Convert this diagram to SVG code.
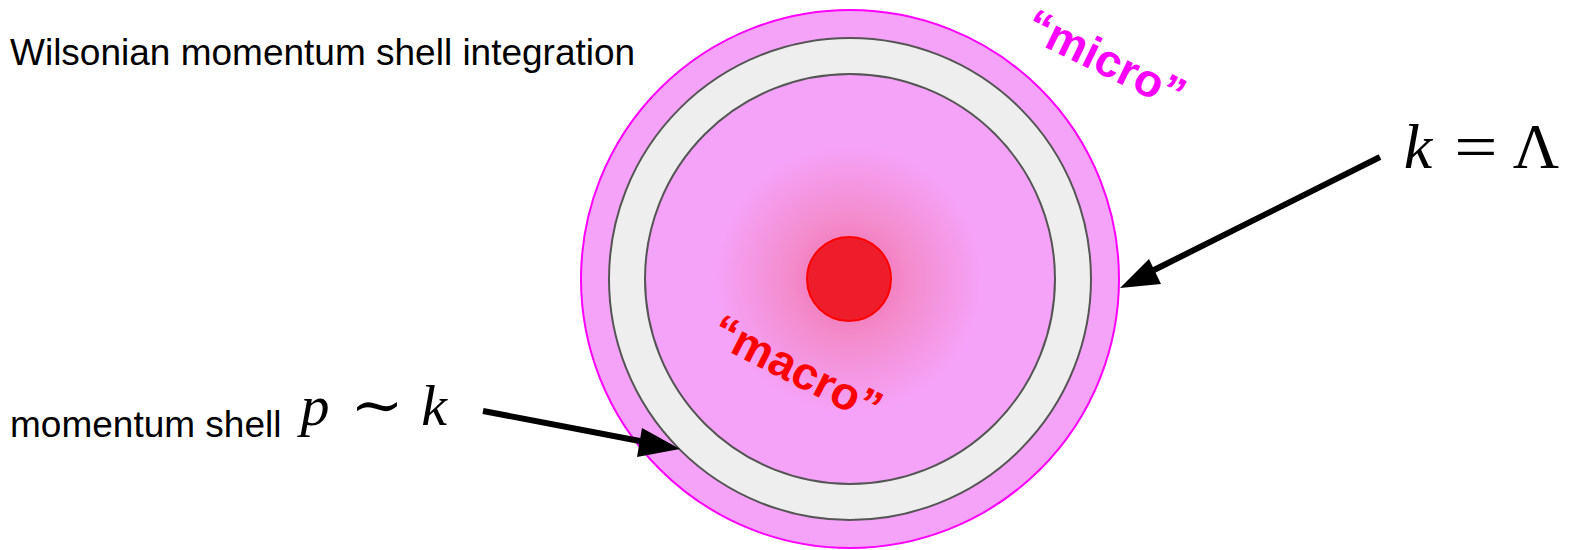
<svg xmlns="http://www.w3.org/2000/svg" width="1571" height="550" viewBox="0 0 1571 550">
<style>
.lbl{font-family:"Liberation Sans",Arial,sans-serif;font-size:37px;fill:#000}
.math{font-family:"Liberation Serif","DejaVu Serif",serif;fill:#000;text-anchor:middle}
.it{font-style:italic}
.bold{font-family:"Liberation Sans",Arial,sans-serif;font-weight:bold;font-size:46px}
.conn{stroke:#000;stroke-width:6;fill:none}
</style>
<defs>
<radialGradient id="core" cx="849" cy="279" r="135" gradientUnits="userSpaceOnUse">
<stop offset="0" stop-color="#f06aa8"/>
<stop offset="0.45" stop-color="#f38ccc"/>
<stop offset="1" stop-color="#f5a3f9"/>
</radialGradient>
</defs>
<g id="outer"><circle cx="850" cy="279" r="269" fill="#f5a3f9" stroke="#ff00ff" stroke-width="2"/></g>
<g id="shell"><circle cx="850" cy="279" r="241" fill="#eeeeee" stroke="#555" stroke-width="2"/></g>
<g id="inner"><circle cx="850" cy="279" r="205" fill="url(#core)" stroke="#555" stroke-width="2"/></g>
<g id="center"><circle cx="849" cy="279" r="42" fill="#ef1c2c" stroke="#ff0000" stroke-width="2"/></g>
<g id="title"><text class="lbl" x="10" y="65">Wilsonian momentum shell integration</text></g>
<g id="micro"><text class="bold" fill="#ff00ff" transform="translate(1022,36) rotate(26)">“micro”</text></g>
<g id="macro"><text class="bold" fill="#ff0000" transform="translate(708,341) rotate(27)">“macro”</text></g>
<g id="klabel"><text class="math it" x="1418" y="168" font-size="64">k</text><text class="math" transform="translate(1476,168) scale(1.2,1)" font-size="64">=</text><text class="math" x="1536" y="168" font-size="64">Λ</text></g>
<g id="plabel"><text class="lbl" x="10" y="437">momentum shell</text><text class="math it" x="315" y="425" font-size="58">p</text><text class="math" transform="translate(377,425) scale(1.1,1)" font-size="58">∼</text><text class="math it" x="434" y="425" font-size="58">k</text></g>
<g id="connectors">
<line class="conn" x1="1380" y1="157" x2="1150" y2="272"/>
<polygon points="1120,288 1149,259 1161,284" fill="#000"/>
<line class="conn" x1="483" y1="411" x2="645" y2="442"/>
<polygon points="680,449 642,428 637,457" fill="#000"/>
</g>
</svg>
